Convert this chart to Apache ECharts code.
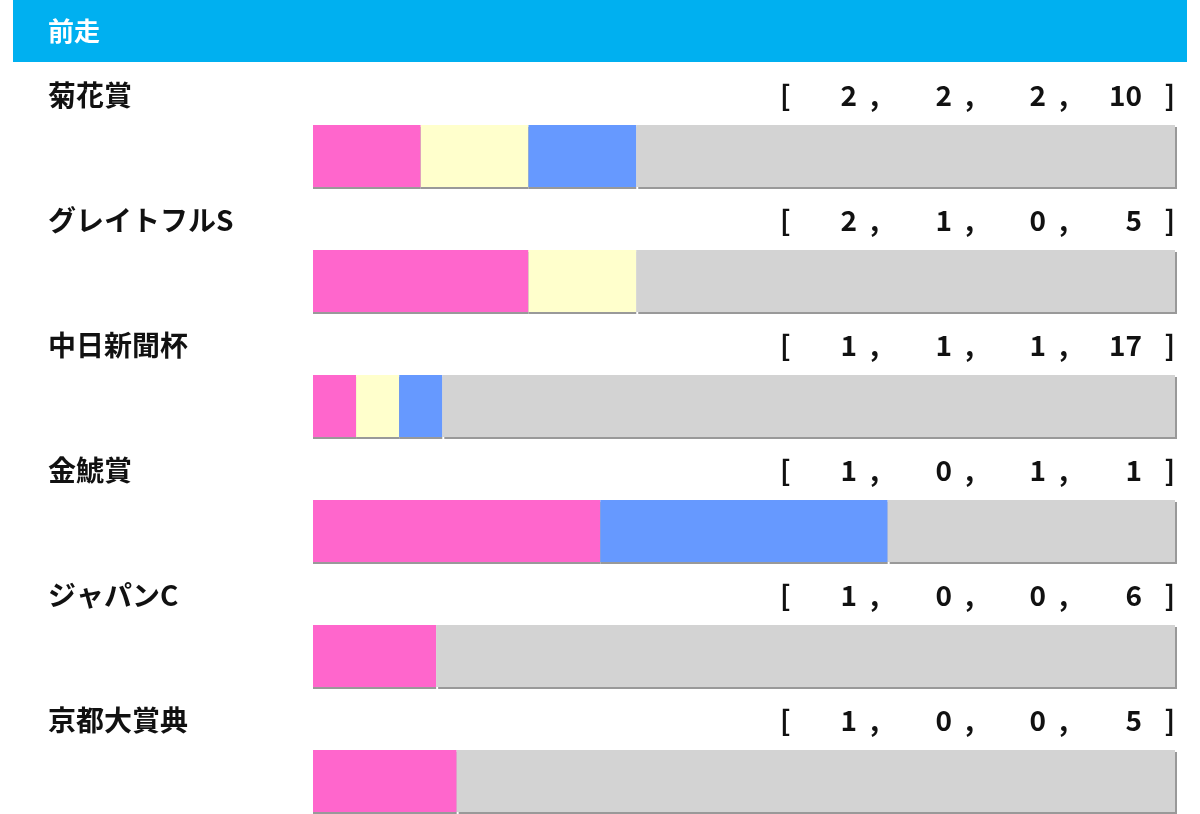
<!DOCTYPE html>
<html><head><meta charset="utf-8">
<script src="https://cdn.jsdelivr.net/npm/echarts@6/dist/echarts.min.js"></script>
<style>html,body{margin:0;padding:0;background:#fff}#c{width:1200px;height:814px}</style>
</head><body><div id="c"></div>
<script>
var title = '前走';
var races = ['菊花賞','グレイトフルS','中日新聞杯','金鯱賞','ジャパンC','京都大賞典'];
var first = [2,2,1,1,1,1];
var second = [2,1,1,0,0,0];
var third = [2,0,1,1,0,0];
var other = [10,5,17,1,6,5];
var colors = ['#ff66cc','#ffffcc','#6699ff','#d3d3d3'];
var F = '"Noto Sans CJK JP","Noto Sans",sans-serif';

var chart = echarts.init(document.getElementById('c'));
var grids=[], xAxes=[], yAxes=[], series=[], graphics=[];
graphics.push({type:'rect',shape:{x:13,y:0,width:1174,height:62},style:{fill:'#00b0f0'},silent:true});
graphics.push({type:'text',x:48,y:31,style:{text:title,fill:'#fff',font:'bold 26px '+F,textVerticalAlign:'middle'}});
var numRight=[857,952,1046,1142], commaX=[870,965,1059];
races.forEach(function(r,i){
  var vals=[first[i],second[i],third[i],other[i]];
  var tot=vals.reduce(function(a,b){return a+b;},0);
  grids.push({left:313,top:125+125*i,width:862,height:62});
  xAxes.push({type:'value',gridIndex:i,min:0,max:tot,show:false});
  yAxes.push({type:'category',gridIndex:i,data:[r],show:false});
  vals.forEach(function(v,k){
    series.push({type:'bar',xAxisIndex:i,yAxisIndex:i,stack:'s'+i,data:[v],barWidth:62,silent:true,
      itemStyle:{color:colors[k],shadowColor:'#999',shadowOffsetY:2,shadowOffsetX:(k===3?2:0),shadowBlur:0}});
  });
  var cy=95+125*i;
  graphics.push({type:'text',x:48,y:cy,style:{text:r,fill:'#111',font:'bold 28px '+F,textVerticalAlign:'middle'}});
  graphics.push({type:'text',x:780,y:cy,style:{text:'[',fill:'#111',font:'bold 28px '+F,textVerticalAlign:'middle'}});
  graphics.push({type:'text',x:1175,y:cy,style:{text:']',fill:'#111',font:'bold 28px '+F,textVerticalAlign:'middle',textAlign:'right'}});
  vals.forEach(function(v,k){
    graphics.push({type:'text',x:numRight[k],y:cy,style:{text:String(v),fill:'#111',font:'bold 28px '+F,textVerticalAlign:'middle',textAlign:'right'}});
    if(k<3) graphics.push({type:'text',x:commaX[k],y:cy,style:{text:',',fill:'#111',font:'bold 28px '+F,textVerticalAlign:'middle'}});
  });
});
chart.setOption({animation:false,grid:grids,xAxis:xAxes,yAxis:yAxes,series:series,graphic:graphics});
</script></body></html>
